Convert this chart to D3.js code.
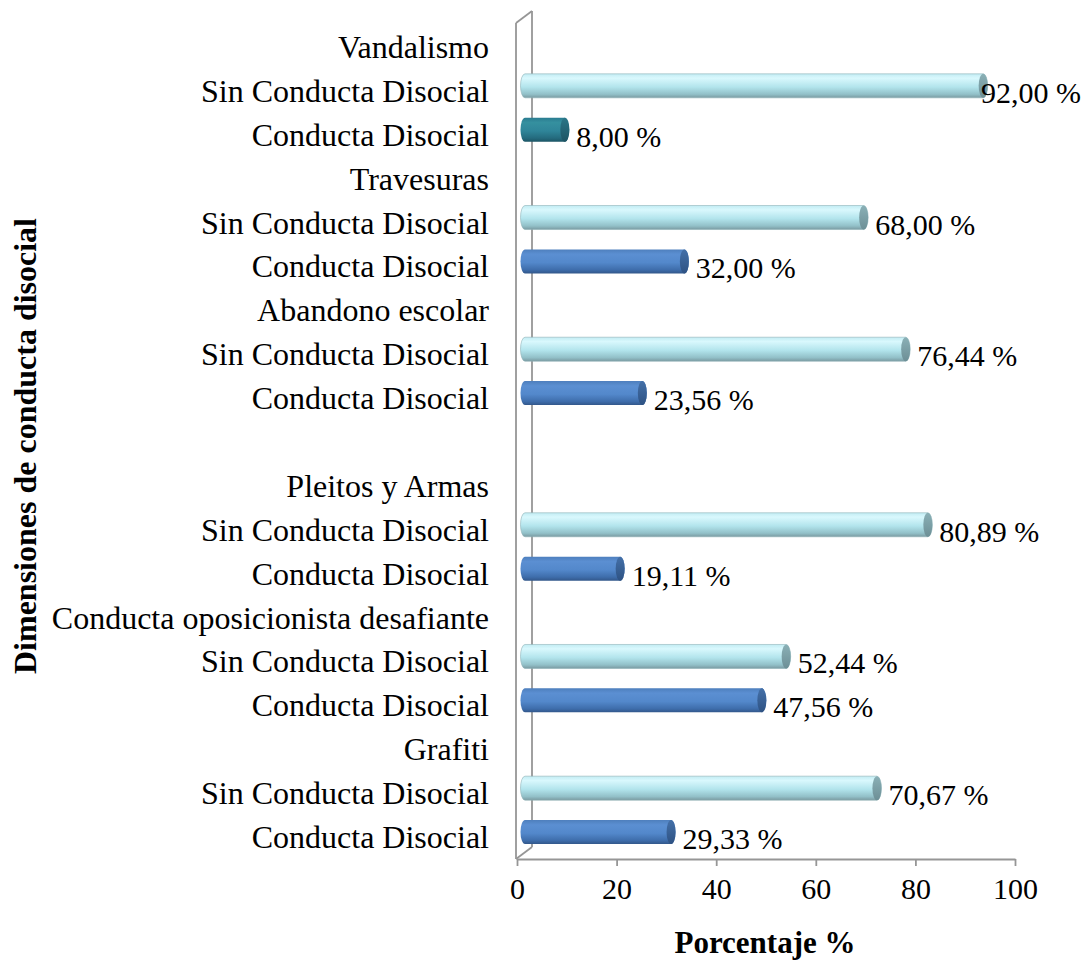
<!DOCTYPE html>
<html>
<head>
<meta charset="utf-8">
<script src="https://cdn.jsdelivr.net/npm/d3@7"></script>
<style>
  html, body { margin: 0; padding: 0; background: #ffffff; }
  svg { display: block; }
  text { font-family: "Liberation Serif", "Times New Roman", serif; fill: #000; }
</style>
</head>
<body>
<svg id="chart" width="1085" height="961"></svg>
<script>
// ---- Data (top to bottom as shown) ----
const categories = [
  "Vandalismo", "Sin Conducta Disocial", "Conducta Disocial",
  "Travesuras", "Sin Conducta Disocial", "Conducta Disocial",
  "Abandono escolar", "Sin Conducta Disocial", "Conducta Disocial",
  "",
  "Pleitos y Armas", "Sin Conducta Disocial", "Conducta Disocial",
  "Conducta oposicionista desafiante", "Sin Conducta Disocial", "Conducta Disocial",
  "Grafiti", "Sin Conducta Disocial", "Conducta Disocial"
];
const values = [
  null, 92.00, 8.00,
  null, 68.00, 32.00,
  null, 76.44, 23.56,
  null,
  null, 80.89, 19.11,
  null, 52.44, 47.56,
  null, 70.67, 29.33
];
const valueLabels = [
  "", "92,00 %", "8,00 %",
  "", "68,00 %", "32,00 %",
  "", "76,44 %", "23,56 %",
  "",
  "", "80,89 %", "19,11 %",
  "", "52,44 %", "47,56 %",
  "", "70,67 %", "29,33 %"
];
const tickValues = [0, 20, 40, 60, 80, 100];
const xTitle = "Porcentaje %";
const yTitle = "Dimensiones de conducta disocial";

// ---- Layout ----
const svg = d3.select("#chart");
const x = d3.scaleLinear().domain([0, 100]).range([517, 1015]);
const y = d3.scaleBand().domain(d3.range(categories.length)).range([26, 860]);
const depthX = 16, depthY = -12;          // 3D wall depth
const barDX = depthX / 2, barDY = depthY / 2; // bars sit mid-depth
const barH = 24, capRX = 4.5;

// ---- Gradients ----
const defs = svg.append("defs");
function grad(id, stops) {
  const g = defs.append("linearGradient").attr("id", id)
    .attr("x1", 0).attr("y1", 0).attr("x2", 0).attr("y2", 1);
  stops.forEach(s => g.append("stop").attr("offset", s[0]).attr("stop-color", s[1]));
}
grad("gSin", [[0, "#c2ecf3"], [0.18, "#d9f8fd"], [0.55, "#b2e4ec"], [0.85, "#92c0c8"], [1, "#7a9aa1"]]);
grad("gCon", [[0, "#4e7fbd"], [0.2, "#5b8fd2"], [0.55, "#5388cb"], [0.85, "#3e6dab"], [1, "#32578a"]]);
grad("gTeal", [[0, "#2a7b90"], [0.2, "#35909f"], [0.55, "#2f8599"], [0.85, "#246b7e"], [1, "#1c5565"]]);
grad("cSin", [[0, "#8ab0b6"], [1, "#6d8f96"]]);
grad("cCon", [[0, "#4470a8"], [1, "#2e5283"]]);
grad("cTeal", [[0, "#2a7688"], [1, "#1d5463"]]);

// ---- Wall / axes lines ----
const wallColor = "#969696";
const yTop = 23, yBot = 859;
const x0 = x(0) - 1;
const wall = svg.append("g").attr("stroke", wallColor).attr("stroke-width", 1.8).attr("fill", "none");
wall.append("line").attr("x1", x0).attr("y1", yTop).attr("x2", x0).attr("y2", yBot);
wall.append("line").attr("x1", x0 + depthX).attr("y1", yTop + depthY).attr("x2", x0 + depthX).attr("y2", yBot + depthY);
wall.append("line").attr("x1", x0).attr("y1", yTop).attr("x2", x0 + depthX).attr("y2", yTop + depthY);
wall.append("line").attr("x1", x0).attr("y1", yBot).attr("x2", x0 + depthX).attr("y2", yBot + depthY);

// x axis
const xAxis = d3.axisBottom(x).tickValues(tickValues).tickSize(7).tickSizeOuter(0).tickPadding(12)
  .tickFormat(d3.format("d"));
const gx = svg.append("g").attr("transform", `translate(0,${yBot})`).call(xAxis);
gx.select(".domain").attr("stroke", wallColor).attr("stroke-width", 1.8);
gx.selectAll(".tick line").attr("stroke", wallColor).attr("stroke-width", 1.8);
gx.selectAll(".tick text").attr("font-size", 30).attr("font-family", "Liberation Serif").attr("fill", "#000");

// ---- Category labels ----
svg.append("g").selectAll("text").data(categories).join("text")
  .attr("x", 489)
  .attr("y", (d, i) => y(i) + y.bandwidth() / 2 + 10)
  .attr("text-anchor", "end")
  .attr("font-size", 32)
  .text(d => d);

// ---- Bars (cylinders) ----
const rows = values.map((v, i) => ({ i, v, label: valueLabels[i], cat: categories[i] })).filter(d => d.v !== null);
function kind(d) {
  if (d.cat.startsWith("Sin")) return "Sin";
  return d.i === 2 ? "Teal" : "Con";
}
const bars = svg.append("g");
rows.forEach(d => {
  const k = kind(d);
  const xs = x(0) + barDX;
  const xe = x(d.v) + barDX;
  const yc = y(d.i) + y.bandwidth() / 2 + barDY;
  const ry = barH / 2;
  const path = `M${xs},${yc - ry} L${xe},${yc - ry} A${capRX},${ry} 0 0 1 ${xe},${yc + ry} L${xs},${yc + ry} A${capRX},${ry} 0 0 1 ${xs},${yc - ry} Z`;
  bars.append("path").attr("d", path).attr("fill", `url(#g${k})`)
    .attr("stroke", k === "Sin" ? "#8fb1b7" : "none").attr("stroke-width", 0.6);
  bars.append("ellipse").attr("cx", xe).attr("cy", yc).attr("rx", capRX).attr("ry", ry)
    .attr("fill", `url(#c${k})`);
});

// ---- Value labels ----
const vl = svg.append("g");
rows.forEach(d => {
  const t = vl.append("text")
    .attr("font-size", 30)
    .attr("y", y(d.i) + y.bandwidth() / 2 + 11)
    .text(d.label);
  const w = t.node().getComputedTextLength();
  let lx = x(d.v) + barDX + capRX + 7;
  if (lx + w > 1081) lx = 1081 - w;
  t.attr("x", lx);
});

// ---- Titles ----
svg.append("text").attr("x", 765).attr("y", 953).attr("text-anchor", "middle")
  .attr("font-size", 31).attr("font-weight", "bold").text(xTitle);
svg.append("text").attr("transform", "translate(36,446) rotate(-90)").attr("text-anchor", "middle")
  .attr("font-size", 32).attr("font-weight", "bold").text(yTitle);
</script>
</body>
</html>
